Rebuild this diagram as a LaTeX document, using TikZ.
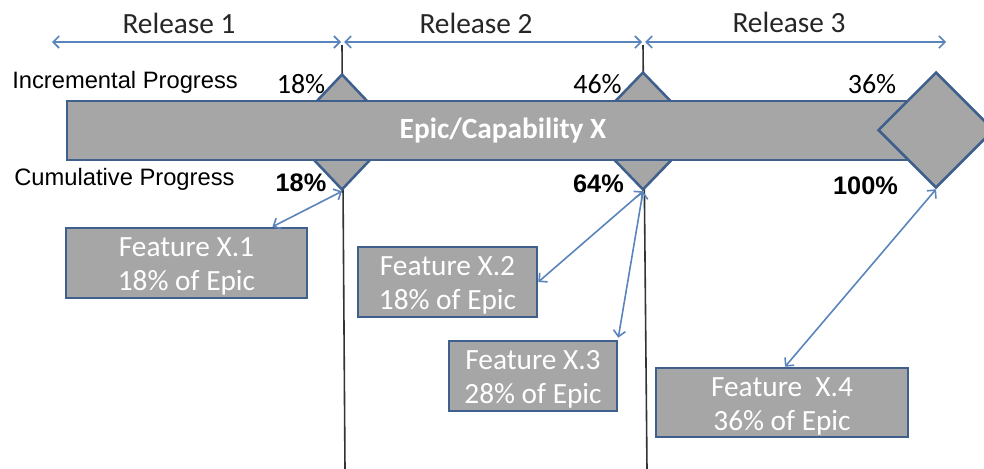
\documentclass[tikz,border=0pt]{standalone}
\usepackage{fontspec}
\setmainfont{Carlito}
\newfontfamily\arialfont{Liberation Sans}
\usetikzlibrary{shapes.geometric,arrows.meta,calc}
\definecolor{boxfill}{HTML}{A6A6A6}
\definecolor{boxedge}{HTML}{3F5F8C}
\definecolor{arrowblue}{HTML}{5A84BC}
\definecolor{vlinecol}{HTML}{333333}
\definecolor{labeltext}{HTML}{262626}
\newcommand{\topstrut}{\rule{0pt}{20pt}}
\begin{document}
\begin{tikzpicture}[x=0.75pt,y=-0.75pt,
  shapebox/.style={draw=boxedge,fill=boxfill,line width=1.9pt},
  feat/.style={shapebox,rectangle,inner sep=0pt,align=center,text=white,
    font=\fontsize{22}{26.5}\selectfont},
  dia/.style={shapebox,diamond,inner sep=0pt},
  relarrow/.style={draw=arrowblue,line width=1.2pt,{Straight Barb[length=4.5pt,width=9pt]}-{Straight Barb[length=4.5pt,width=9pt]}},
  conn/.style={draw=arrowblue,line width=1.2pt,{Straight Barb[length=4.5pt,width=9pt]}-{Straight Barb[length=4.5pt,width=9pt]}},
  sepline/.style={draw=vlinecol,line width=1.2pt},
  rellabel/.style={anchor=base,inner sep=0pt,text=labeltext,font=\fontsize{22}{26}\selectfont},
  sidelabel/.style={anchor=base west,inner sep=0pt,text=black,font=\arialfont\fontsize{17.8}{20}\selectfont},
  pct/.style={anchor=base,inner sep=0pt,text=black,font=\fontsize{21}{25}\selectfont},
  cum/.style={anchor=base,inner sep=0pt,text=black,font=\arialfont\bfseries\fontsize{19}{22}\selectfont}
]
\useasboundingbox (0,0) rectangle (984,468);
\clip (0,0) rectangle (984,468);

% separator lines
\coordinate (v1top) at (342,45);
\coordinate (v1bot) at (345,470);
\coordinate (v2top) at (643,45);
\coordinate (v2bot) at (647,470);
\draw[sepline] (v1top) -- (v1bot);
\draw[sepline] (v2top) -- (v2bot);

% milestone diamonds behind bar
\node[dia,minimum width=82.5pt,minimum height=87pt] (d1) at (342,132) {};
\node[dia,minimum width=85.5pt,minimum height=88.5pt] (d2) at (643,131) {};

% epic bar
\node[shapebox,rectangle,inner sep=0pt,minimum width=654pt,minimum height=44.25pt,
  text=white,font=\bfseries\fontsize{22}{26}\selectfont] (bar) at (503,130.5) {Epic/Capability X};

% final diamond
\node[dia,minimum width=87pt,minimum height=87pt] (d3) at (936,130) {};

% release arrows
\coordinate (r0) at (52,42);
\coordinate (r1a) at (341,42);
\coordinate (r1b) at (344,42);
\coordinate (r2a) at (642,42);
\coordinate (r2b) at (645,42);
\coordinate (r3) at (946,42);
\draw[relarrow] (r0) -- (r1a);
\draw[relarrow] (r1b) -- (r2a);
\draw[relarrow] (r2b) -- (r3);

\node[rellabel] (rl1) at (179,33) {Release 1};
\node[rellabel] (rl2) at (476,33) {Release 2};
\node[rellabel] (rl3) at (789,32) {Release 3};

% side labels
\node[sidelabel] (inc) at (12,88) {Incremental Progress};
\node[sidelabel] (cumlab) at (14,185) {Cumulative Progress};

% percentages
\node[pct] (p1) at (301,93) {18\%};
\node[pct] (p2) at (597.5,93) {46\%};
\node[pct] (p3) at (872,93) {36\%};
\node[cum] (c1) at (301,191) {18\%};
\node[cum] (c2) at (598.5,192) {64\%};
\node[cum] (c3) at (865.5,194) {100\%};

% feature boxes
\node[feat,minimum width=180.75pt,minimum height=52.5pt] (fx1) at (186.5,263) {\topstrut Feature X.1\\[-1pt]18\% of Epic};
\node[feat,minimum width=134.25pt,minimum height=52.5pt] (fx2) at (447.5,282) {\topstrut Feature X.2\\[-1pt]18\% of Epic};
\node[feat,minimum width=126pt,minimum height=52.5pt] (fx3) at (533,376) {\topstrut Feature X.3\\[-1pt]28\% of Epic};
\node[feat,minimum width=189pt,minimum height=51.75pt] (fx4) at (782,402.5) {\topstrut Feature\ \ X.4\\[-1pt]36\% of Epic};

% connectors
\draw[conn] ($(fx1.north)+(86,0)$) -- (d1.south);
\draw[conn] (fx2.east) -- (d2.south);
\draw[conn] ($(fx3.north east)+(0,-2)$) -- (d2.south);
\draw[conn] ($(fx4.north)+(3,0)$) -- (d3.south);
\end{tikzpicture}
\end{document}
